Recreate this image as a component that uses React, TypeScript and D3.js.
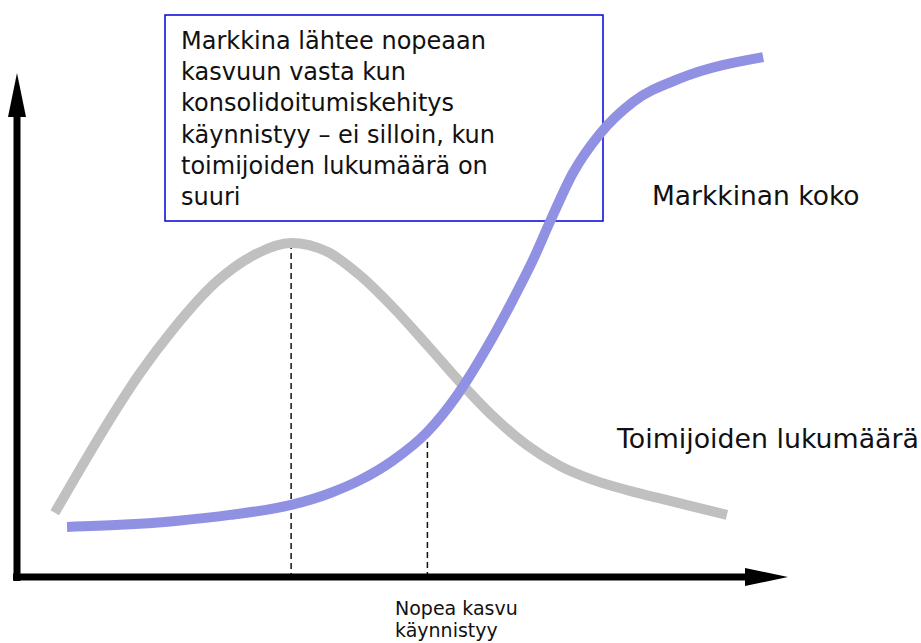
import React, { useEffect, useRef } from 'react';
import * as d3 from 'd3';

// Toimijoiden lukumäärä (gray) – x, y in relative units
const actorsX = [4.9, 7.3, 11.7, 16.0, 20.3, 26.0, 30.3, 35.6, 40.3, 44.6, 48.8, 53.3, 57.5, 61.8, 66.2, 70.5, 74.8, 79.6, 83.9, 92.2];
const actorsY = [12.3, 18.4, 29.3, 39.1, 47.5, 56.7, 61.3, 64.0, 62.3, 57.7, 51.7, 44.4, 37.4, 30.8, 25.3, 21.3, 18.6, 16.5, 14.9, 11.9];

// Markkinan koko (blue)
const marketX = [6.5, 13.4, 20.3, 27.7, 35.6, 40.7, 44.6, 48.8, 53.3, 57.1, 61.0, 64.4, 67.0, 69.2, 72.2, 75.7, 80.0, 86.1, 96.9];
const marketY = [9.6, 10.0, 10.7, 11.9, 13.8, 16.1, 18.6, 22.3, 27.8, 34.7, 43.9, 53.1, 60.7, 68.0, 77.4, 84.9, 91.0, 95.5, 99.6];

// dashed guides: x and top y
const guideX = [35.6, 53.3];
const guideY = [64.0, 27.8];

const boxLines = [
  'Markkina lähtee nopeaan',
  'kasvuun vasta kun',
  'konsolidoitumiskehitys',
  'käynnistyy – ei silloin, kun',
  'toimijoiden lukumäärä on',
  'suuri',
];
const seriesLabels = ['Markkinan koko', 'Toimijoiden lukumäärä'];
const axisNote = ['Nopea kasvu', 'käynnistyy'];

const FONT = '"DejaVu Sans", Verdana, sans-serif';

function App() {
  const ref = useRef(null);

  useEffect(() => {
    const width = 921;
    const height = 643;
    d3.select(ref.current).select('svg').remove();

    const svg = d3.select(ref.current)
      .append('svg')
      .attr('width', width)
      .attr('height', height)
      .style('position', 'absolute')
      .style('left', 0)
      .style('top', 0);

    const x = d3.scaleLinear().domain([0, 100]).range([17, 787]);
    const y = d3.scaleLinear().domain([0, 100]).range([577, 55]);

    // text box
    svg.append('rect')
      .attr('x', 165).attr('y', 15)
      .attr('width', 438).attr('height', 206)
      .attr('fill', 'white')
      .attr('stroke', '#0000dd')
      .attr('stroke-width', 1.5);

    const bt = svg.append('text')
      .attr('font-family', FONT)
      .attr('font-size', 24)
      .attr('fill', '#111');
    boxLines.forEach((l, i) => {
      bt.append('tspan').attr('x', 181).attr('y', 49 + i * 31.2).text(l);
    });

    // dashed guides
    guideX.forEach((gx, i) => {
      svg.append('line')
        .attr('x1', x(gx)).attr('x2', x(gx))
        .attr('y1', y(guideY[i])).attr('y2', y(0))
        .attr('stroke', '#111')
        .attr('stroke-width', 1.5)
        .attr('stroke-dasharray', '6,4');
    });

    const line = d3.line<[number, number]>()
      .x(d => x(d[0]))
      .y(d => y(d[1]))
      .curve(d3.curveMonotoneX);

    svg.append('path')
      .attr('d', line(actorsX.map((v, i) => [v, actorsY[i]])))
      .attr('fill', 'none')
      .attr('stroke', '#c0c0c0')
      .attr('stroke-width', 10);

    svg.append('path')
      .attr('d', line(marketX.map((v, i) => [v, marketY[i]])))
      .attr('fill', 'none')
      .attr('stroke', '#9191e3')
      .attr('stroke-width', 10);

    // axes with arrows
    svg.append('line')
      .attr('x1', 17).attr('x2', 17)
      .attr('y1', 581).attr('y2', 112)
      .attr('stroke', 'black').attr('stroke-width', 7);
    svg.append('path')
      .attr('d', 'M17,73 L26,117 L8,117 Z')
      .attr('fill', 'black');

    svg.append('line')
      .attr('x1', 13).attr('x2', 750)
      .attr('y1', 577).attr('y2', 577)
      .attr('stroke', 'black').attr('stroke-width', 7);
    svg.append('path')
      .attr('d', 'M788,577 L745,568 L745,586 Z')
      .attr('fill', 'black');

    // series labels
    svg.append('text')
      .attr('x', 652).attr('y', 205)
      .attr('font-family', FONT).attr('font-size', 26.5).attr('fill', '#111')
      .text(seriesLabels[0]);
    svg.append('text')
      .attr('x', 617).attr('y', 448)
      .attr('font-family', FONT).attr('font-size', 26.8).attr('fill', '#111')
      .text(seriesLabels[1]);

    const nt = svg.append('text')
      .attr('font-family', FONT).attr('font-size', 19).attr('fill', '#111');
    axisNote.forEach((l, i) => {
      nt.append('tspan').attr('x', 395).attr('y', 615 + i * 21.5).text(l);
    });
  }, []);

  return <div ref={ref} />;
}

export default App
